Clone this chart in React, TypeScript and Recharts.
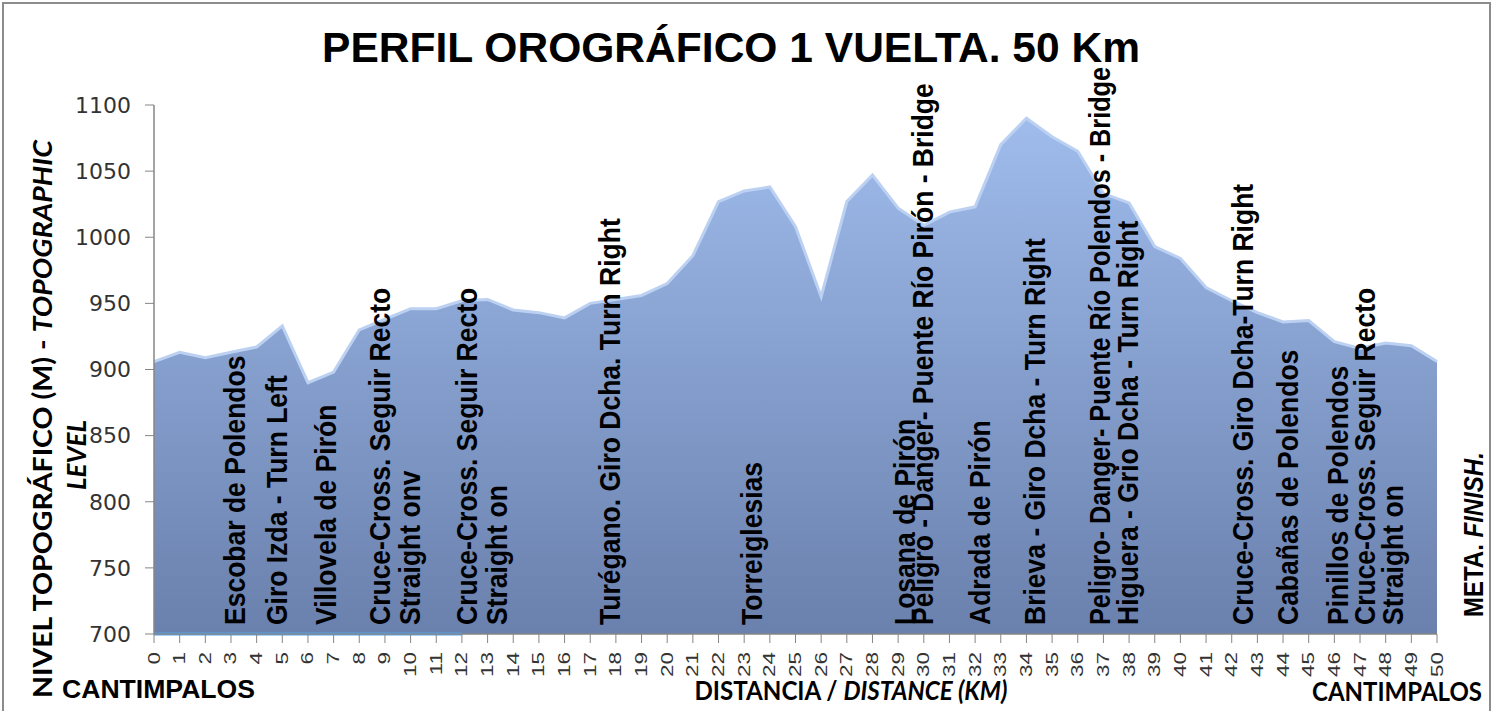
import React from "react";
import { ComposedChart, Area, Line, XAxis, YAxis, ReferenceDot } from "recharts";

// km marks along the lap
const kms = [
  0, 1, 2, 3, 4, 5, 6, 7, 8, 9, 10, 11, 12, 13, 14, 15, 16, 17, 18, 19, 20, 21, 22, 23, 24, 25,
  26, 27, 28, 29, 30, 31, 32, 33, 34, 35, 36, 37, 38, 39, 40, 41, 42, 43, 44, 45, 46, 47, 48, 49, 50,
];

// altitude (m) at each km
const altitud = [
  906, 913, 909, 913, 917, 933, 890, 898, 930, 938, 946, 946, 952, 953, 945, 943, 939, 950, 953, 956,
  965, 986, 1027, 1035, 1038, 1008, 955, 1027, 1047, 1022, 1009, 1019, 1023, 1070, 1090, 1076, 1065,
  1033, 1026, 993, 984, 962, 952, 943, 936, 937, 921, 916, 920, 918, 906,
];

// light blue stretch drawn on the base, km 0 to 12
const tramoInicial = [700, 700, 700, 700, 700, 700, 700, 700, 700, 700, 700, 700, 700];

const yTicks = [700, 750, 800, 850, 900, 950, 1000, 1050, 1100];

// waypoint notes, placed by km
const puntosKm = [
  3.55, 5.18, 7.09, 9.2, 10.37, 12.59, 13.76, 18.16, 23.69, 29.66, 30.36, 32.58, 34.72, 37.26, 38.35,
  42.83, 44.58, 46.53, 47.58, 48.68,
];
const puntosTexto = [
  "Escobar de Polendos",
  "Giro Izda - Turn Left",
  "Villovela de Pirón",
  "Cruce-Cross. Seguir Recto",
  "Straight onv",
  "Cruce-Cross. Seguir Recto",
  "Straight on",
  "Turégano. Giro Dcha. Turn Right",
  "Torreiglesias",
  "Losana de Pirón",
  "Peligro - Danger- Puente Río Pirón - Bridge",
  "Adrada de Pirón",
  "Brieva - Giro Dcha - Turn Right",
  "Peligro- Danger- Puente Río Polendos - Bridge",
  "Higuera - Grio Dcha - Turn Right",
  "Cruce-Cross. Giro Dcha-Turn Right",
  "Cabañas de Polendos",
  "Pinillos de Polendos",
  "Cruce-Cross. Seguir Recto",
  "Straight on",
];
const metaKm = 51.79;

// the long bridge note is squeezed a little so it stays under the title
const ajusteLongitud: Record<number, number> = { 13: 558 };

const data = kms.map((km, i) => ({
  km,
  alt: altitud[i],
  tramo: i < tramoInicial.length ? tramoInicial[i] : null,
}));

const ARIAL = "'Liberation Sans', Arial, sans-serif";
const CALIBRI = "Lato, 'Open Sans', sans-serif";

const KmTick = ({ x, y, payload }: any) => (
  <text
    transform={`translate(${x + 5.5},${y + 7}) rotate(-90) scale(1.25,0.88)`}
    textAnchor="end"
    fontFamily={ARIAL}
    fontSize={18}
    fill="#333"
  >
    {payload.value}
  </text>
);

const PuntoLabel = ({ cx, cy, texto, largo }: any) => (
  <text
    transform={`translate(${cx},${cy - 9}) rotate(-90) scale(1,1.08)`}
    fontFamily={ARIAL}
    fontWeight="bold"
    fontSize={26.5}
    fill="#000"
    textLength={largo}
    lengthAdjust={largo ? "spacingAndGlyphs" : undefined}
  >
    {texto}
  </text>
);

const MetaLabel = ({ cx, cy }: any) => (
  <text
    transform={`translate(${cx},${cy - 17}) rotate(-90) scale(1,1.15)`}
    fontFamily={ARIAL}
    fontWeight="bold"
    fontSize={24}
    fill="#000"
  >
    META. <tspan fontStyle="italic">FINISH.</tspan>
  </text>
);

export default function App() {
  return (
    <div style={{ position: "absolute", left: 0, top: 0, width: 1500, height: 711, background: "#fff" }}>
      <ComposedChart width={1500} height={711} data={data} margin={{ top: 105, right: 63, bottom: 0, left: 0 }}>
        <defs>
          <linearGradient id="relieve" x1="0" y1="0" x2="0" y2="1">
            <stop offset="0%" stopColor="#9fbcec" />
            <stop offset="100%" stopColor="#6a80ad" />
          </linearGradient>
        </defs>
        <XAxis
          dataKey="km"
          type="number"
          domain={[0, 50]}
          ticks={kms}
          interval={0}
          height={77}
          tickSize={9}
          tick={<KmTick />}
          axisLine={{ stroke: "#868686", strokeWidth: 1.5 }}
          tickLine={{ stroke: "#868686" }}
        />
        <YAxis
          type="number"
          domain={[700, 1100]}
          ticks={yTicks}
          width={154}
          tickSize={9}
          tickMargin={14}
          tick={{ fontSize: 22, fontFamily: "'DejaVu Sans', Verdana, sans-serif", fill: "#333" }}
          axisLine={{ stroke: "#868686", strokeWidth: 1.5 }}
          tickLine={{ stroke: "#868686" }}
        />
        <Area
          type="linear"
          dataKey="alt"
          stroke="#bcd1f2"
          strokeWidth={3}
          fill="url(#relieve)"
          fillOpacity={1}
          isAnimationActive={false}
        />
        <Line
          type="linear"
          dataKey="tramo"
          stroke="#4da6f7"
          strokeWidth={3}
          dot={false}
          isAnimationActive={false}
        />
        {puntosKm.map((km, i) => (
          <ReferenceDot
            key={i}
            x={km}
            y={700}
            ifOverflow="visible"
            shape={(p: any) => <PuntoLabel {...p} texto={puntosTexto[i]} largo={ajusteLongitud[i]} />}
          />
        ))}
        <ReferenceDot x={metaKm} y={700} ifOverflow="visible" shape={(p: any) => <MetaLabel {...p} />} />
      </ComposedChart>
      <svg
        width={1500}
        height={711}
        style={{ position: "absolute", left: 0, top: 0, pointerEvents: "none" }}
      >
        <rect x={3} y={3} width={1487} height={760} fill="none" stroke="#8c8c8c" strokeWidth={2} />
        <text
          x={731}
          y={62}
          textAnchor="middle"
          fontFamily={ARIAL}
          fontWeight="bold"
          fontSize={42}
          textLength={818}
          lengthAdjust="spacingAndGlyphs"
        >
          PERFIL OROGRÁFICO 1 VUELTA. 50 Km
        </text>
        <text
          transform="translate(52,419) rotate(-90)"
          textAnchor="middle"
          fontFamily={CALIBRI}
          fontWeight="bold"
          fontSize={27}
          textLength={558}
          lengthAdjust="spacingAndGlyphs"
        >
          NIVEL TOPOGRÁFICO (M) - <tspan fontStyle="italic">TOPOGRAPHIC</tspan>
        </text>
        <text
          transform="translate(86,455) rotate(-90)"
          textAnchor="middle"
          fontFamily={CALIBRI}
          fontWeight="bold"
          fontStyle="italic"
          fontSize={27}
          textLength={70}
          lengthAdjust="spacingAndGlyphs"
        >
          LEVEL
        </text>
        <text
          x={851}
          y={700}
          textAnchor="middle"
          fontFamily={CALIBRI}
          fontWeight="bold"
          fontSize={26}
          textLength={313}
          lengthAdjust="spacingAndGlyphs"
        >
          DISTANCIA / <tspan fontStyle="italic">DISTANCE (KM)</tspan>
        </text>
        <text
          x={62}
          y={698}
          fontFamily={ARIAL}
          fontWeight="bold"
          fontSize={25}
          textLength={193}
          lengthAdjust="spacingAndGlyphs"
        >
          CANTIMPALOS
        </text>
        <text
          x={1312}
          y={701}
          fontFamily={CALIBRI}
          fontWeight="bold"
          fontSize={26}
          textLength={170}
          lengthAdjust="spacingAndGlyphs"
        >
          CANTIMPALOS
        </text>
      </svg>
    </div>
  );
}
